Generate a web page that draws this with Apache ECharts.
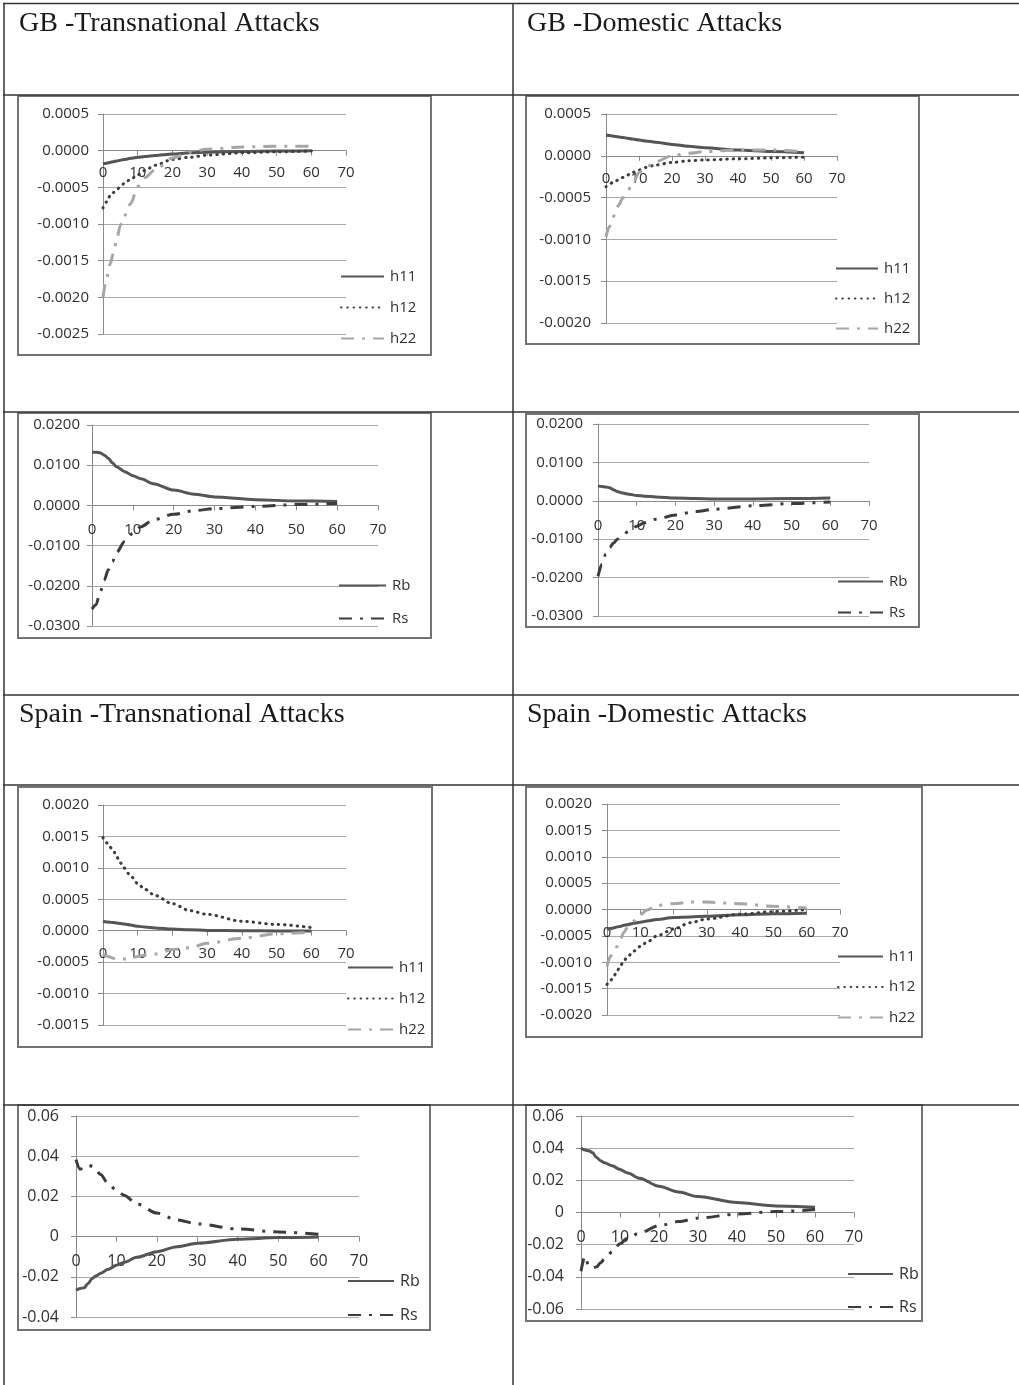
<!DOCTYPE html>
<html><head><meta charset="utf-8">
<script src="https://cdn.jsdelivr.net/npm/echarts@6/dist/echarts.min.js"></script>
<style>html,body{margin:0;padding:0;background:#fff;}#c{width:1019px;height:1385px;}</style>
</head><body><div id="c"></div><script>
// ---------- data ----------
const horizons = [0,1,2,3,4,5,6,8,10,12,15,20,25,30,40,50,60];
const xTickLabels = [0,10,20,30,40,50,60,70];
const titles = ['GB -Transnational Attacks','GB -Domestic Attacks','Spain -Transnational Attacks','Spain -Domestic Attacks'];

// GB transnational: conditional variances / covariance
const gbTransH11 = [-0.00018,-0.00017,-0.00016,-0.00015,-0.00014,-0.00013,-0.00012,-0.000105,-0.00009,-0.00008,-0.000065,-0.000045,-0.00003,-0.00002,-0.00001,-0.000005,0];
const gbTransH12 = [-0.00078,-0.0007,-0.00062,-0.00057,-0.00053,-0.00049,-0.00045,-0.00039,-0.00033,-0.00027,-0.0002,-0.00012,-0.00009,-0.00006,-0.00003,-0.000015,-0.000005];
const gbTransH22 = [-0.002,-0.00175,-0.00155,-0.0014,-0.0012,-0.00102,-0.0009,-0.00072,-0.00049,-0.00037,-0.00026,-0.0001,-0.00002,0.00002,0.00005,0.00006,0.00006];
// GB domestic
const gbDomH11 = [0.000248,0.000242,0.000236,0.00023,0.000225,0.00022,0.000214,0.000202,0.00019,0.000178,0.000162,0.000136,0.000114,0.000096,0.000068,0.00005,0.000036];
const gbDomH12 = [-0.00037,-0.00034,-0.00032,-0.0003,-0.00028,-0.00026,-0.00024,-0.0002,-0.00017,-0.00014,-0.00011,-0.00008,-0.00006,-0.00005,-0.000036,-0.000024,-0.000016];
const gbDomH22 = [-0.00097,-0.00085,-0.00075,-0.00065,-0.00058,-0.00051,-0.00045,-0.00035,-0.0002,-0.00014,-0.00007,0,0.00003,0.00005,0.00007,0.00007,0.00005];
// GB returns
const gbTransRb = [0.01325,0.0132,0.0131,0.0125,0.0117,0.0106,0.0096,0.0084,0.0074,0.0066,0.0054,0.0038,0.0028,0.0021,0.0014,0.0011,0.001];
const gbTransRs = [-0.0258,-0.0247,-0.0215,-0.0186,-0.016,-0.014,-0.0117,-0.009,-0.0069,-0.0053,-0.0036,-0.0022,-0.0013,-0.0008,-0.00025,0.0002,0.0005];
const gbDomRb = [0.0039,0.0037,0.0036,0.0034,0.0029,0.0024,0.0021,0.0017,0.0014,0.0012,0.001,0.0007,0.0006,0.0005,0.0005,0.0006,0.0007];
const gbDomRs = [-0.0197,-0.0165,-0.0139,-0.0122,-0.011,-0.01,-0.0093,-0.0079,-0.0066,-0.0057,-0.0048,-0.0037,-0.0028,-0.0022,-0.0013,-0.0007,-0.0003];
// Spain transnational
const esTransH11 = [0.00015,0.00014,0.000135,0.00013,0.000122,0.000115,0.000105,0.00009,0.00007,0.00006,0.000045,0.000027,0.000015,0.000005,0,-0.000005,-0.000005];
const esTransH12 = [0.00148,0.0014,0.00133,0.00127,0.00117,0.00108,0.001,0.00087,0.00075,0.00066,0.00056,0.00043,0.00032,0.00026,0.00015,0.0001,0.00005];
const esTransH22 = [-0.00037,-0.0004,-0.00042,-0.00044,-0.00045,-0.00045,-0.00045,-0.00043,-0.00041,-0.00039,-0.00037,-0.0003,-0.00027,-0.0002,-0.00012,-0.00005,-0.00002];
// Spain domestic
const esDomH11 = [-0.00038,-0.00036,-0.00035,-0.00033,-0.00032,-0.0003,-0.00029,-0.00026,-0.00024,-0.00022,-0.00019,-0.00015,-0.00014,-0.00013,-0.0001,-0.00008,-0.00007];
const esDomH12 = [-0.00142,-0.00135,-0.00127,-0.00117,-0.00107,-0.00098,-0.00091,-0.00079,-0.0007,-0.00062,-0.0005,-0.00037,-0.00025,-0.00018,-0.00009,-0.00004,0];
const esDomH22 = [-0.00108,-0.00089,-0.0008,-0.0007,-0.00057,-0.00044,-0.00035,-0.00022,-0.0001,-0.00001,0.00008,0.00011,0.00014,0.00014,0.00011,0.00006,0.00003];
// Spain returns
const esTransRb = [-0.0267,-0.0258,-0.0255,-0.0233,-0.0208,-0.0195,-0.0183,-0.0163,-0.0142,-0.0127,-0.0103,-0.0075,-0.005,-0.0033,-0.0013,-0.0005,-0.0002];
const esTransRs = [0.0383,0.0335,0.0345,0.0355,0.035,0.033,0.031,0.0263,0.023,0.0205,0.0163,0.0117,0.0083,0.0063,0.0038,0.0023,0.0012];
const esDomRb = [0.0402,0.0388,0.0384,0.0371,0.0342,0.0322,0.031,0.029,0.0268,0.0245,0.0213,0.0163,0.0127,0.0099,0.0062,0.0041,0.0033];
const esDomRs = [-0.0365,-0.0272,-0.0334,-0.0344,-0.0338,-0.0313,-0.029,-0.0245,-0.0194,-0.0159,-0.0128,-0.0082,-0.0056,-0.0035,-0.001,0.0006,0.0018];

// y-axis ranges [min, max, interval]
const yRangeGbTransH = [-0.0025, 0.0005, 0.0005];
const yRangeGbDomH = [-0.002, 0.0005, 0.0005];
const yRangeGbR = [-0.03, 0.02, 0.01];
const yRangeEsTransH = [-0.0015, 0.002, 0.0005];
const yRangeEsDomH = [-0.002, 0.002, 0.0005];
const yRangeEsR = [-0.04, 0.06, 0.02];
const yRangeEsDomR = [-0.06, 0.06, 0.02];

// ---------- styles ----------
const LABEL_FONT = '"Open Sans", "Liberation Sans", sans-serif';
const TEXT_COLOR = '#303030';
const styles = {
  h11: {color:'#555555', width:3, type:'solid'},
  h12: {color:'#3c3c3c', width:3, type:[0.5,5.8], cap:'round'},
  h22: {color:'#a6a6a6', width:3, type:[13,8,3,8]},
  Rb:  {color:'#555555', width:3, type:'solid'},
  Rs:  {color:'#3c3c3c', width:3, type:[13,8,3,8]}
};

const panels = [
  {grid:{left:103,top:114,width:243,height:220}, box:[18,96,413,259], yr:yRangeGbTransH, dec:4, fs:15, ym:14, xm:15,
   series:[['h11',gbTransH11],['h12',gbTransH12],['h22',gbTransH22]], lg:{left:340,top:269,w:43,step:31}},
  {grid:{left:606,top:114,width:231,height:209}, box:[526,96,393,248], yr:yRangeGbDomH, dec:4, fs:15, ym:15, xm:15,
   series:[['h11',gbDomH11],['h12',gbDomH12],['h22',gbDomH22]], lg:{left:835,top:261,w:42,step:30}},
  {grid:{left:92,top:425,width:286,height:201}, box:[18,413,413,225], yr:yRangeGbR, dec:4, fs:15, ym:12, xm:17,
   series:[['Rb',gbTransRb],['Rs',gbTransRs]], lg:{left:338,top:578,w:47,step:33}},
  {grid:{left:598,top:424,width:271,height:192}, box:[526,414,393,213], yr:yRangeGbR, dec:4, fs:15, ym:15, xm:17,
   series:[['Rb',gbDomRb],['Rs',gbDomRs]], lg:{left:837,top:574,w:45,step:31}},
  {grid:{left:103,top:805,width:243,height:220}, box:[18,787,414,260], yr:yRangeEsTransH, dec:4, fs:15, ym:14, xm:16,
   series:[['h11',esTransH11],['h12',esTransH12],['h22',esTransH22]], lg:{left:347,top:960,w:45,step:31}},
  {grid:{left:607,top:804,width:233,height:211}, box:[526,787,396,250], yr:yRangeEsDomH, dec:4, fs:15, ym:15, xm:16,
   series:[['h11',esDomH11],['h12',esDomH12],['h22',esDomH22]], lg:{left:837,top:949,w:45,step:30.5}},
  {grid:{left:76,top:1116,width:283,height:201}, box:[18,1105,412,225], yr:yRangeEsR, dec:2, fs:16, ym:17, xm:17,
   series:[['Rb',esTransRb],['Rs',esTransRs]], lg:{left:347,top:1273,w:46,step:33}},
  {grid:{left:581,top:1116,width:273,height:193}, box:[526,1105,396,216], yr:yRangeEsDomR, dec:2, fs:16, ym:17, xm:17,
   series:[['Rb',esDomRb],['Rs',esDomRs]], lg:{left:847,top:1266,w:45,step:32}}
];

function fmt(dec){
  return function(v){
    if (Math.abs(v) < 1e-12) v = 0;
    if (dec === 2) { const r = Math.round(v*100)/100; return r === 0 ? '0' : r.toFixed(2); }
    return v.toFixed(dec);
  };
}

const option = {animation:false, backgroundColor:'#fff', grid:[], xAxis:[], yAxis:[], series:[], legend:[], graphic:[]};

panels.forEach((p, i) => {
  option.grid.push(Object.assign({containLabel:false}, p.grid));
  // x axis crosses the value axis at zero: shift it up from the grid bottom by the zero position
  const zeroOffset = -((0 - p.yr[0]) / (p.yr[1] - p.yr[0])) * p.grid.height;
  option.xAxis.push({
    type:'value', gridIndex:i, position:'bottom', offset:zeroOffset,
    min:xTickLabels[0], max:xTickLabels[xTickLabels.length-1], interval:10,
    axisLine:{show:true, onZero:false, lineStyle:{color:'#8a8a8a', width:1}},
    axisTick:{show:true, inside:false, length:5, lineStyle:{color:'#8a8a8a'}},
    splitLine:{show:false},
    axisLabel:{show:true, margin:p.xm, fontFamily:LABEL_FONT, fontSize:p.fs, color:TEXT_COLOR}
  });
  option.yAxis.push({
    type:'value', gridIndex:i, min:p.yr[0], max:p.yr[1], interval:p.yr[2],
    axisLine:{show:true, onZero:false, lineStyle:{color:'#8a8a8a', width:1}},
    axisTick:{show:true, inside:false, length:5, lineStyle:{color:'#8a8a8a'}},
    splitLine:{show:true, lineStyle:{color:'#a8a8a8', width:1}},
    axisLabel:{show:true, margin:p.ym, fontFamily:LABEL_FONT, fontSize:p.fs, color:TEXT_COLOR, formatter:fmt(p.dec)}
  });
  const names = [];
  p.series.forEach(([name, vals]) => {
    names.push(name);
    const st = styles[name];
    option.series.push({
      type:'line', name:name, xAxisIndex:i, yAxisIndex:i, symbol:'none', smooth:0.3, smoothMonotone:'x',
      data: horizons.map((h, k) => [h, vals[k]]),
      lineStyle:{color:st.color, width:st.width, type:st.type, cap:st.cap || 'butt'},
      itemStyle:{color:st.color}, z:3
    });
  });
  option.legend.push({
    orient:'vertical', left:p.lg.left, top:p.lg.top, itemWidth:p.lg.w, itemHeight:14,
    itemGap:p.lg.step - 15, padding:0, selectedMode:false, data:names,
    itemStyle:{opacity:0, borderWidth:0},
    textStyle:{fontFamily:LABEL_FONT, fontSize:p.fs, color:TEXT_COLOR, padding:[0,0,0,1]}
  });
  option.graphic.push({
    type:'rect', shape:{x:p.box[0], y:p.box[1], width:p.box[2], height:p.box[3]},
    style:{fill:'none', stroke:'#737373', lineWidth:2}, z:1, silent:true
  });
});

// table lines
const T = {color:'#333', w:1.5};
const hLines = [3.5, 95, 412, 695, 785, 1105];
const vLines = [4, 513];
hLines.forEach(y => option.graphic.push({type:'line', shape:{x1:3, y1:y, x2:1019, y2:y}, style:{stroke:T.color, lineWidth:T.w}, z:2, silent:true}));
vLines.forEach(x => option.graphic.push({type:'line', shape:{x1:x, y1:3, x2:x, y2:1385}, style:{stroke:T.color, lineWidth:T.w}, z:2, silent:true}));

// header titles
const titlePos = [[19,9.5],[527,9.5],[19,700.5],[527,700.5]];
titles.forEach((t, i) => option.graphic.push({
  type:'text', x:titlePos[i][0], y:titlePos[i][1], silent:true, z:2,
  style:{text:t, font:'28px "Liberation Serif", "Times New Roman", serif', fill:'#1a1a1a', verticalAlign:'top', align:'left'}
}));

const chart = echarts.init(document.getElementById('c'), null, {renderer:'canvas'});
chart.setOption(option);
</script></body></html>
